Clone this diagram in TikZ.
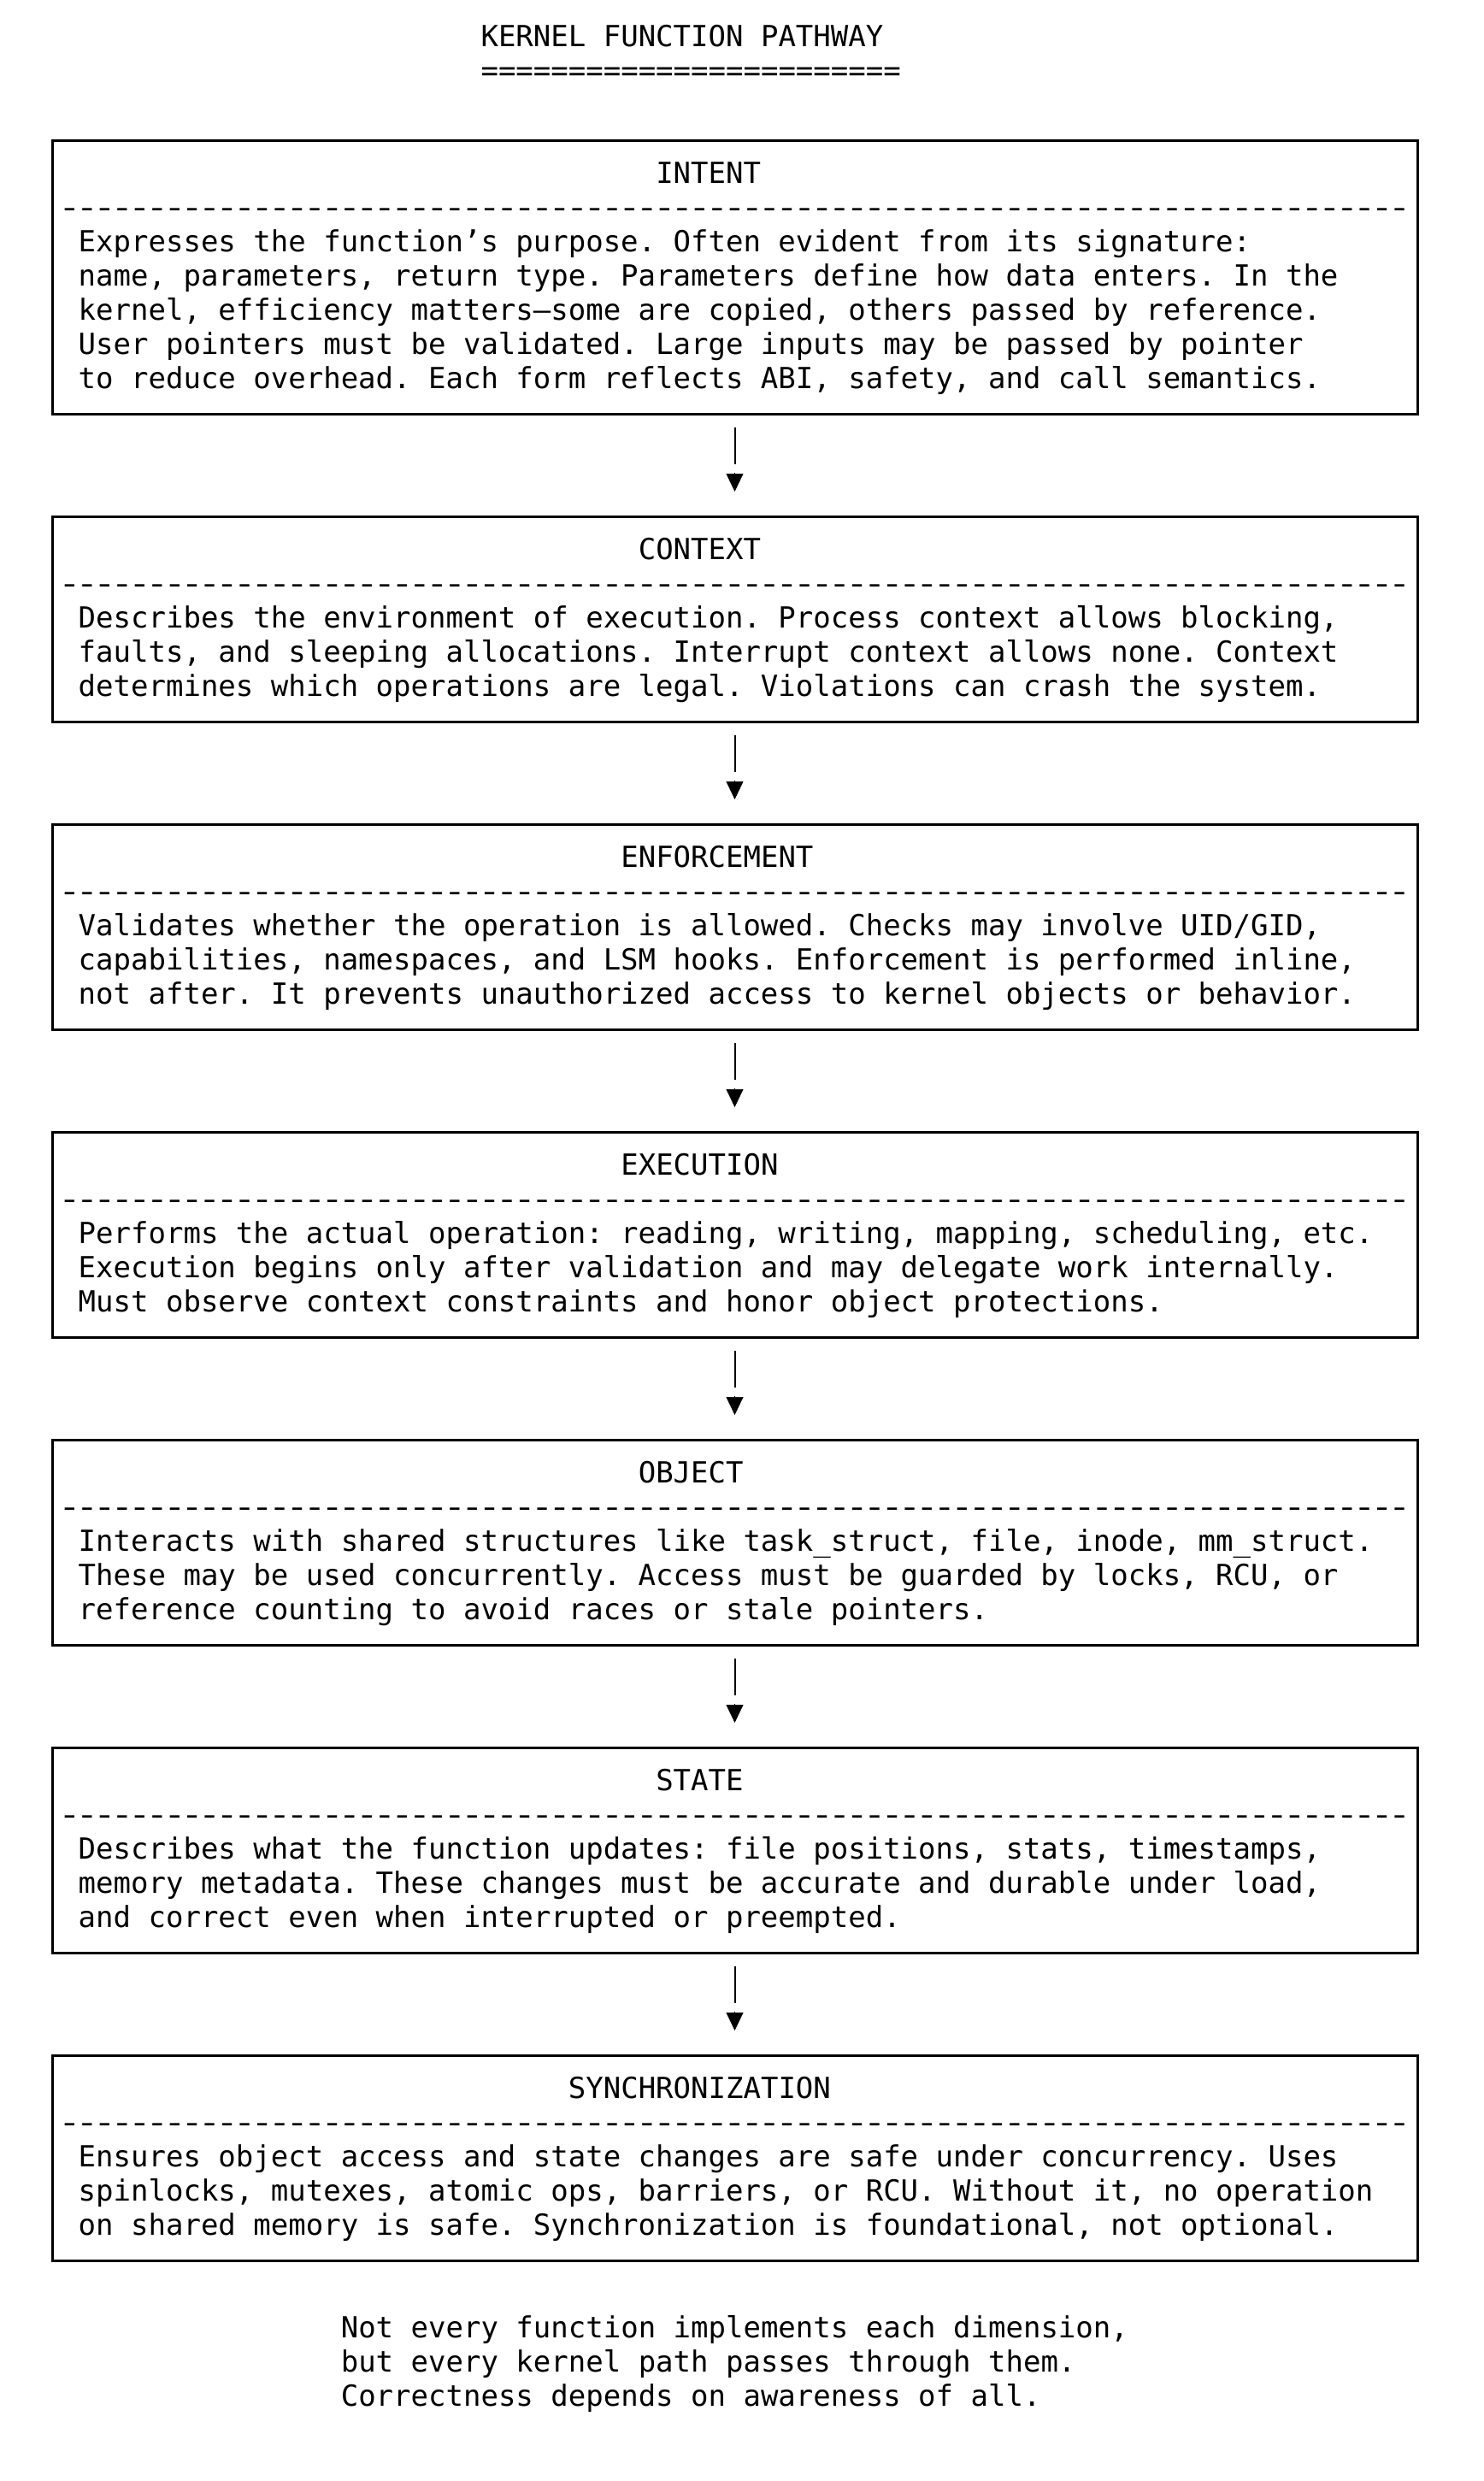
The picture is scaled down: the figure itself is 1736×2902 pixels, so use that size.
\documentclass[tikz,border=0pt]{standalone}
\usepackage{fontspec}
\usepackage{graphicx}
\setmonofont{DejaVu Sans Mono}
\usetikzlibrary{arrows.meta}
\newcommand{\monotxt}{\ttfamily\fontsize{34pt}{40pt}\selectfont}
\newcommand{\cxx}[1]{50.8+20.47*#1}
\newcommand{\ryy}[1]{54+40*#1}
\newcommand{\hy}{\makebox[20.47pt]{\scalebox{1.3}[1]{-}}}
\newcommand{\hyten}{\hy\hy\hy\hy\hy\hy\hy\hy\hy\hy}
\newcommand{\hyline}{\hyten\hyten\hyten\hyten\hyten\hyten\hyten\hy\hy\hy\hy\hy\hy\hy}
\tikzset{
  box/.style={draw, line width=3pt, inner sep=0pt, outer sep=0pt, minimum width=1597pt},
  txt/.style={anchor=base west, inner sep=0pt, outer sep=0pt, font=\monotxt},
  stem/.style={line width=2pt, shorten <=16pt, shorten >=61pt},
  head/.style={line width=0.6pt, -{Triangle[width=20pt,length=21pt]}, shorten <=69pt, shorten >=29pt},
}
\begin{document}
\begin{tikzpicture}[x=1pt,y=-1pt]
\useasboundingbox (0,0) rectangle (1736,2902);
% title
\node[txt] (title) at ({\cxx{25}},{\ryy{0}}) {KERNEL FUNCTION PATHWAY};
\node[txt] (titleu) at ({\cxx{25}},{\ryy{1}}) {========================};
% boxes
\node[box, minimum height=320pt] (b1) at (859.5,324) {};
\node[box, minimum height=240pt] (b2) at (859.5,{44+40*14+120}) {};
\node[box, minimum height=240pt] (b3) at (859.5,{44+40*23+120}) {};
\node[box, minimum height=240pt] (b4) at (859.5,{44+40*32+120}) {};
\node[box, minimum height=240pt] (b5) at (859.5,{44+40*41+120}) {};
\node[box, minimum height=240pt] (b6) at (859.5,{44+40*50+120}) {};
\node[box, minimum height=240pt] (b7) at (859.5,{44+40*59+120}) {};
% box 1
\node[txt] (h1) at ({\cxx{35}},{\ryy{4}}) {INTENT};
\node[txt] (d1) at ({\cxx{1}},{\ryy{5}}) {\hyline};
\node[txt] (l1a) at ({\cxx{2}},{\ryy{6}}) {Expresses the function’s purpose. Often evident from its signature:};
\node[txt] (l1b) at ({\cxx{2}},{\ryy{7}}) {name, parameters, return type. Parameters define how data enters. In the};
\node[txt] (l1c) at ({\cxx{2}},{\ryy{8}}) {kernel, efficiency matters—some are copied, others passed by reference.};
\node[txt] (l1d) at ({\cxx{2}},{\ryy{9}}) {User pointers must be validated. Large inputs may be passed by pointer};
\node[txt] (l1e) at ({\cxx{2}},{\ryy{10}}) {to reduce overhead. Each form reflects ABI, safety, and call semantics.};
% box 2
\node[txt] (h2) at ({\cxx{34}},{\ryy{15}}) {CONTEXT};
\node[txt] (d2) at ({\cxx{1}},{\ryy{16}}) {\hyline};
\node[txt] (l2a) at ({\cxx{2}},{\ryy{17}}) {Describes the environment of execution. Process context allows blocking,};
\node[txt] (l2b) at ({\cxx{2}},{\ryy{18}}) {faults, and sleeping allocations. Interrupt context allows none. Context};
\node[txt] (l2c) at ({\cxx{2}},{\ryy{19}}) {determines which operations are legal. Violations can crash the system.};
% box 3
\node[txt] (h3) at ({\cxx{33}},{\ryy{24}}) {ENFORCEMENT};
\node[txt] (d3) at ({\cxx{1}},{\ryy{25}}) {\hyline};
\node[txt] (l3a) at ({\cxx{2}},{\ryy{26}}) {Validates whether the operation is allowed. Checks may involve UID/GID,};
\node[txt] (l3b) at ({\cxx{2}},{\ryy{27}}) {capabilities, namespaces, and LSM hooks. Enforcement is performed inline,};
\node[txt] (l3c) at ({\cxx{2}},{\ryy{28}}) {not after. It prevents unauthorized access to kernel objects or behavior.};
% box 4
\node[txt] (h4) at ({\cxx{33}},{\ryy{33}}) {EXECUTION};
\node[txt] (d4) at ({\cxx{1}},{\ryy{34}}) {\hyline};
\node[txt] (l4a) at ({\cxx{2}},{\ryy{35}}) {Performs the actual operation: reading, writing, mapping, scheduling, etc.};
\node[txt] (l4b) at ({\cxx{2}},{\ryy{36}}) {Execution begins only after validation and may delegate work internally.};
\node[txt] (l4c) at ({\cxx{2}},{\ryy{37}}) {Must observe context constraints and honor object protections.};
% box 5
\node[txt] (h5) at ({\cxx{34}},{\ryy{42}}) {OBJECT};
\node[txt] (d5) at ({\cxx{1}},{\ryy{43}}) {\hyline};
\node[txt] (l5a) at ({\cxx{2}},{\ryy{44}}) {Interacts with shared structures like task\_struct, file, inode, mm\_struct.};
\node[txt] (l5b) at ({\cxx{2}},{\ryy{45}}) {These may be used concurrently. Access must be guarded by locks, RCU, or};
\node[txt] (l5c) at ({\cxx{2}},{\ryy{46}}) {reference counting to avoid races or stale pointers.};
% box 6
\node[txt] (h6) at ({\cxx{35}},{\ryy{51}}) {STATE};
\node[txt] (d6) at ({\cxx{1}},{\ryy{52}}) {\hyline};
\node[txt] (l6a) at ({\cxx{2}},{\ryy{53}}) {Describes what the function updates: file positions, stats, timestamps,};
\node[txt] (l6b) at ({\cxx{2}},{\ryy{54}}) {memory metadata. These changes must be accurate and durable under load,};
\node[txt] (l6c) at ({\cxx{2}},{\ryy{55}}) {and correct even when interrupted or preempted.};
% box 7
\node[txt] (h7) at ({\cxx{30}},{\ryy{60}}) {SYNCHRONIZATION};
\node[txt] (d7) at ({\cxx{1}},{\ryy{61}}) {\hyline};
\node[txt] (l7a) at ({\cxx{2}},{\ryy{62}}) {Ensures object access and state changes are safe under concurrency. Uses};
\node[txt] (l7b) at ({\cxx{2}},{\ryy{63}}) {spinlocks, mutexes, atomic ops, barriers, or RCU. Without it, no operation};
\node[txt] (l7c) at ({\cxx{2}},{\ryy{64}}) {on shared memory is safe. Synchronization is foundational, not optional.};
% footer
\node[txt] (f1) at ({\cxx{17}},{\ryy{67}}) {Not every function implements each dimension,};
\node[txt] (f2) at ({\cxx{17}},{\ryy{68}}) {but every kernel path passes through them.};
\node[txt] (f3) at ({\cxx{17}},{\ryy{69}}) {Correctness depends on awareness of all.};
% connectors
\foreach \a/\b in {b1/b2,b2/b3,b3/b4,b4/b5,b5/b6,b6/b7}{
  \draw[stem] (\a.south) -- (\b.north);
  \draw[head] (\a.south) -- (\b.north);
}
\end{tikzpicture}
\end{document}
